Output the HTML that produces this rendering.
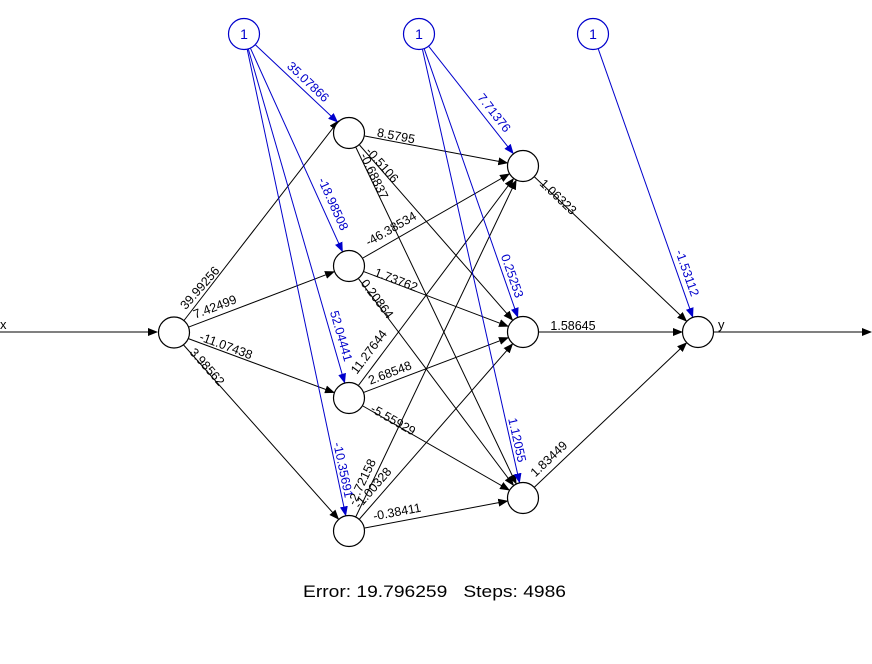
<!DOCTYPE html>
<html><head><meta charset="utf-8"><style>
html,body{margin:0;padding:0;background:#fff;}
svg{display:block;font-family:"Liberation Sans",Arial,sans-serif;}
.k{stroke:#000;stroke-width:1;fill:none;}
.b{stroke:#0000CC;stroke-width:1;fill:none;}
.n{stroke:#000;stroke-width:1.2;fill:#fff;}
.nb{stroke:#0000CC;stroke-width:1.2;fill:#fff;}
.t{font-size:12.5px;fill:#000;text-anchor:middle;dominant-baseline:central;}
.tb{font-size:12.5px;fill:#0000CC;text-anchor:middle;dominant-baseline:central;}
</style></head><body>
<svg width="872" height="664" viewBox="0 0 872 664" xmlns="http://www.w3.org/2000/svg">
<defs>
<marker id="ak" markerUnits="userSpaceOnUse" markerWidth="10" markerHeight="8" refX="9" refY="4" orient="auto"><path d="M0,0 L10,4 L0,8 z" fill="#000"/></marker>
<marker id="ab" markerUnits="userSpaceOnUse" markerWidth="10" markerHeight="8" refX="9" refY="4" orient="auto"><path d="M0,0 L10,4 L0,8 z" fill="#0000CC"/></marker>
</defs>
<rect width="872" height="664" fill="#fff"/>
<!-- input / output lines -->
<line class="k" x1="0" y1="332" x2="157" y2="332" marker-end="url(#ak)"/>
<line class="k" x1="714" y1="332" x2="871" y2="332" marker-end="url(#ak)"/>
<!-- X -> H1 -->
<line class="k" x1="183.6" y1="321" x2="338.4" y2="121" marker-end="url(#ak)"/>
<line class="k" x1="188" y1="327.3" x2="334" y2="271.7" marker-end="url(#ak)"/>
<line class="k" x1="188" y1="338.5" x2="334" y2="392.5" marker-end="url(#ak)"/>
<line class="k" x1="183.6" y1="345" x2="338.4" y2="519" marker-end="url(#ak)"/>
<!-- H1 -> H2 -->
<line class="k" x1="364.7" y1="136" x2="507.3" y2="163" marker-end="url(#ak)"/>
<line class="k" x1="359.5" y1="145" x2="512.5" y2="320" marker-end="url(#ak)"/>
<line class="k" x1="355.9" y1="147.4" x2="516.1" y2="483.6" marker-end="url(#ak)"/>
<line class="k" x1="362.9" y1="258" x2="509.1" y2="174" marker-end="url(#ak)"/>
<line class="k" x1="364" y1="271.7" x2="508" y2="326.3" marker-end="url(#ak)"/>
<line class="k" x1="358.6" y1="278.8" x2="513.4" y2="485.2" marker-end="url(#ak)"/>
<line class="k" x1="358.6" y1="385.2" x2="513.4" y2="178.8" marker-end="url(#ak)"/>
<line class="k" x1="364" y1="392.3" x2="508" y2="337.7" marker-end="url(#ak)"/>
<line class="k" x1="362.9" y1="406" x2="509.1" y2="490" marker-end="url(#ak)"/>
<line class="k" x1="355.9" y1="516.6" x2="516.1" y2="180.4" marker-end="url(#ak)"/>
<line class="k" x1="359.5" y1="519" x2="512.5" y2="344" marker-end="url(#ak)"/>
<line class="k" x1="364.7" y1="528" x2="507.3" y2="501" marker-end="url(#ak)"/>
<!-- H2 -> O -->
<line class="k" x1="534.6" y1="177" x2="686.4" y2="321" marker-end="url(#ak)"/>
<line class="k" x1="539" y1="332" x2="682" y2="332" marker-end="url(#ak)"/>
<line class="k" x1="534.6" y1="487" x2="686.4" y2="343" marker-end="url(#ak)"/>
<!-- bias -->
<line class="b" x1="255.6" y1="45" x2="337.4" y2="122" marker-end="url(#ab)"/>
<line class="b" x1="250.6" y1="48.6" x2="342.4" y2="251.4" marker-end="url(#ab)"/>
<line class="b" x1="248.4" y1="49.4" x2="344.6" y2="382.6" marker-end="url(#ab)"/>
<line class="b" x1="247.3" y1="49.6" x2="345.7" y2="515.4" marker-end="url(#ab)"/>
<line class="b" x1="428.9" y1="46.6" x2="513.1" y2="153.4" marker-end="url(#ab)"/>
<line class="b" x1="424.3" y1="49.1" x2="517.7" y2="316.9" marker-end="url(#ab)"/>
<line class="b" x1="422.5" y1="49.6" x2="519.5" y2="482.4" marker-end="url(#ab)"/>
<line class="b" x1="598.3" y1="49.1" x2="692.7" y2="316.9" marker-end="url(#ab)"/>
<!-- nodes -->
<circle class="n" cx="174" cy="332.5" r="15.5"/>
<circle class="n" cx="349" cy="133" r="15.5"/>
<circle class="n" cx="349" cy="266" r="15.5"/>
<circle class="n" cx="349" cy="398" r="15.5"/>
<circle class="n" cx="349" cy="531" r="15.5"/>
<circle class="n" cx="523" cy="166" r="15.5"/>
<circle class="n" cx="523" cy="332" r="15.5"/>
<circle class="n" cx="523" cy="498" r="15.5"/>
<circle class="n" cx="698" cy="332" r="15.5"/>
<circle class="nb" cx="244" cy="34" r="15.5"/>
<circle class="nb" cx="419" cy="34" r="15.5"/>
<circle class="nb" cx="593" cy="34" r="15.5"/>
<text class="tb" x="244" y="34" style="font-size:14px">1</text>
<text class="tb" x="419" y="34" style="font-size:14px">1</text>
<text class="tb" x="593" y="34" style="font-size:14px">1</text>
<text x="0" y="329" style="font-size:13px">x</text>
<text x="718" y="329" style="font-size:13px">y</text>
<!-- labels -->
<text class="t" transform="translate(200,288) rotate(-48.7)">39.99256</text>
<text class="t" transform="translate(215,307) rotate(-20.8)">7.42499</text>
<text class="t" transform="translate(226,346) rotate(20.3)">-11.07438</text>
<text class="t" transform="translate(207,367) rotate(48.4)">3.98562</text>
<text class="t" transform="translate(396,136) rotate(10.7)">8.5795</text>
<text class="t" transform="translate(382,165) rotate(48.8)">-0.5106</text>
<text class="t" transform="translate(374,176) rotate(64.5)">-0.68837</text>
<text class="t" transform="translate(391,229) rotate(-29.9)">-46.38534</text>
<text class="t" transform="translate(396,280) rotate(20.8)">1.73762</text>
<text class="t" transform="translate(377,299) rotate(53.1)">0.20864</text>
<text class="t" transform="translate(369,352) rotate(-53.1)">11.27644</text>
<text class="t" transform="translate(390,373) rotate(-20.8)">2.68548</text>
<text class="t" transform="translate(393,420) rotate(29.9)">-5.55929</text>
<text class="t" transform="translate(362,482) rotate(-64.5)">-2.72158</text>
<text class="t" transform="translate(373,488) rotate(-48.8)">-1.00328</text>
<text class="t" transform="translate(397,512) rotate(-10.7)">-0.38411</text>
<text class="t" transform="translate(558,197) rotate(43.5)">1.06323</text>
<text class="t" transform="translate(573,326)">1.58645</text>
<text class="t" transform="translate(549,459) rotate(-43.5)">1.83449</text>
<text class="tb" transform="translate(308,82) rotate(43.3)">35.07866</text>
<text class="tb" transform="translate(333,204) rotate(65.6)">-18.98508</text>
<text class="tb" transform="translate(341,336) rotate(73.9)">52.04441</text>
<text class="tb" transform="translate(343,470) rotate(78.1)">-10.35691</text>
<text class="tb" transform="translate(494,113) rotate(51.8)">7.71376</text>
<text class="tb" transform="translate(512,276) rotate(70.8)">0.25253</text>
<text class="tb" transform="translate(517,440) rotate(77.4)">1.12055</text>
<text class="tb" transform="translate(687,273) rotate(70.6)">-1.53112</text>
<text x="303" y="597" style="font-size:17px" textLength="263" lengthAdjust="spacingAndGlyphs" xml:space="preserve">Error: 19.796259   Steps: 4986</text>
</svg>
</body></html>
